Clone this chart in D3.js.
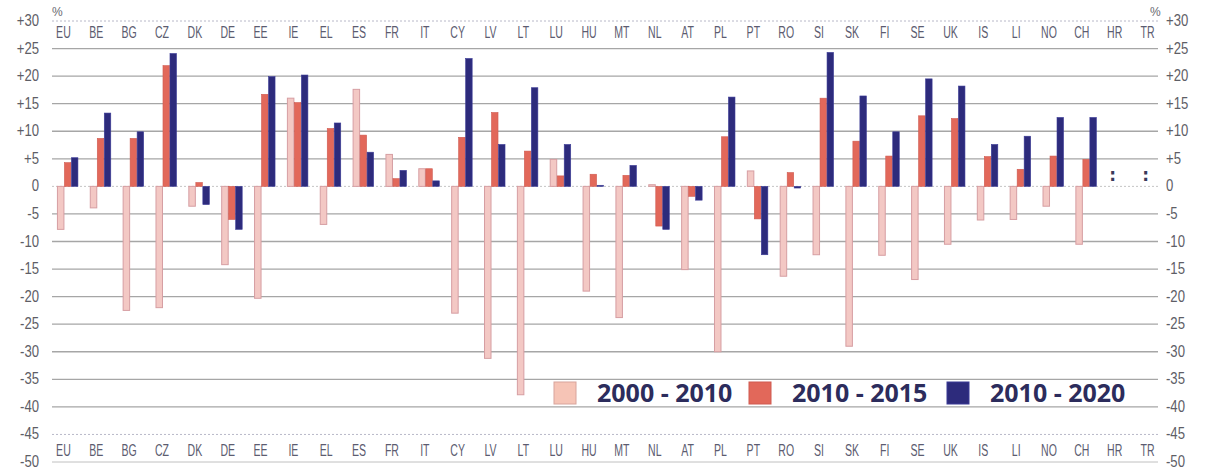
<!DOCTYPE html>
<html>
<head>
<meta charset="utf-8">
<script src="https://cdn.jsdelivr.net/npm/d3@7"></script>
<style>
  body { margin: 0; background: #fff; }
  svg { display: block; }
</style>
</head>
<body>
<svg id="chart" width="1212" height="475"></svg>
<script>
const countries = ['EU', 'BE', 'BG', 'CZ', 'DK', 'DE', 'EE', 'IE', 'EL', 'ES', 'FR', 'IT', 'CY', 'LV', 'LT', 'LU', 'HU', 'MT', 'NL', 'AT', 'PL', 'PT', 'RO', 'SI', 'SK', 'FI', 'SE', 'UK', 'IS', 'LI', 'NO', 'CH', 'HR', 'TR'];
const seriesNames = ['2000 - 2010', '2010 - 2015', '2010 - 2020'];
const change2000_2010 = [-7.8, -3.9, -22.5, -22, -3.6, -14.2, -20.3, 16, -6.9, 17.6, 5.8, 3.2, -23, -31.2, -37.8, 4.9, -19, -23.8, 0.3, -15.1, -30, 2.8, -16.3, -12.4, -29, -12.5, -16.9, -10.5, -6.1, -6, -3.6, -10.5, null, null];
const change2010_2015 = [4.3, 8.7, 8.7, 21.9, 0.7, -6, 16.7, 15.2, 10.5, 9.3, 1.4, 3.2, 8.9, 13.4, 6.4, 1.9, 2.2, 2.0, -7.2, -1.8, 9.0, -5.9, 2.5, 16, 8.2, 5.5, 12.8, 12.3, 5.4, 3.1, 5.5, 4.9, null, null];
const change2010_2020 = [5.2, 13.3, 9.9, 24.1, -3.3, -7.8, 19.9, 20.2, 11.5, 6.2, 2.9, 1.0, 23.2, 7.6, 17.9, 7.6, 0.2, 3.8, -7.8, -2.5, 16.2, -12.4, -0.3, 24.3, 16.4, 9.9, 19.5, 18.2, 7.6, 9.1, 12.5, 12.5, null, null];
const yTicks = [30, 25, 20, 15, 10, 5, 0, -5, -10, -15, -20, -25, -30, -35, -40, -45, -50];

const fills = ['#f3c8c4', '#e2685a', '#2d2b7c'];
const strokes = ['#d69ea2', '#cf5a50', '#3a3a96'];

const svg = d3.select('#chart');
const gridLeft = 52, gridRight = 1158;

const y = d3.scaleLinear().domain([-50, 30]).range([462, 21]);
const x = d3.scaleBand().domain(countries).range([51, 1168]).padding(0);
const x1 = d3.scaleBand().domain(seriesNames).range([0, 21]).padding(0);

// grid
const grid = svg.append('g');
yTicks.forEach(t => {
  let dash = null, col = '#a6a6a6', w = 1.3;
  if (t === 30 || t === -45) { dash = '2,2'; col = '#b8b8c8'; w = 1; }
  if (t === 0) { dash = '2,2'; col = '#c4c4c4'; w = 1; }
  if (t === -50) { col = '#c0c0c0'; w = 1; }
  grid.append('line')
    .attr('x1', gridLeft).attr('x2', gridRight)
    .attr('y1', y(t)).attr('y2', y(t))
    .attr('stroke', col).attr('stroke-width', w)
    .attr('stroke-dasharray', dash);
});

// axis labels left and right
const fmt = d => (d > 0 ? '+' + d : String(d));
[['end', 39], ['start', 1166]].forEach(([anchor, xp]) => {
  svg.append('g').selectAll('text')
    .data(yTicks)
    .join('text')
    .attr('transform', d => `translate(${xp},${y(d) + 5}) scale(0.82,1)`)
    .attr('text-anchor', anchor)
    .attr('font-family', 'Liberation Sans, Arial, sans-serif')
    .attr('font-size', 16)
    .attr('fill', '#5e5e66')
    .text(fmt);
});

svg.append('text').attr('x', 52).attr('y', 16).attr('font-family', 'Liberation Sans, sans-serif')
  .attr('font-size', 12).attr('fill', '#6a6a72').text('%');
svg.append('text').attr('x', 1150).attr('y', 16).attr('font-family', 'Liberation Sans, sans-serif')
  .attr('font-size', 12).attr('fill', '#6a6a72').text('%');

// category labels top and bottom
[38, 456].forEach(yp => {
  svg.append('g').selectAll('text')
    .data(countries)
    .join('text')
    .attr('transform', d => `translate(${x(d) + x.bandwidth() / 2 - 4},${yp}) scale(0.62,1)`)
    .attr('text-anchor', 'middle')
    .attr('font-family', 'Liberation Sans, Arial, sans-serif')
    .attr('font-size', 17)
    .attr('fill', '#5c5c70')
    .text(d => d);
});

// bars
const allSeries = [change2000_2010, change2010_2015, change2010_2020];
const rows = [];
countries.forEach((c, i) => {
  allSeries.forEach((s, k) => {
    if (s[i] !== null) rows.push({ c, k, v: s[i] });
  });
});

svg.append('g').selectAll('rect')
  .data(rows)
  .join('rect')
  .attr('x', d => x(d.c) + x.bandwidth() / 2 - 10.5 + x1(seriesNames[d.k]) + 0.5)
  .attr('width', x1.bandwidth() - 0.5)
  .attr('y', d => y(Math.max(0, d.v)))
  .attr('height', d => Math.abs(y(d.v) - y(0)))
  .attr('fill', d => fills[d.k])
  .attr('stroke', d => strokes[d.k])
  .attr('stroke-width', d => (d.k === 0 ? 1 : 0.6));

// not available markers
svg.append('g').selectAll('text')
  .data(countries.filter((c, i) => change2010_2020[i] === null))
  .join('text')
  .attr('x', d => x(d) + x.bandwidth() / 2 - 6)
  .attr('y', y(0) - 5)
  .attr('text-anchor', 'middle')
  .attr('font-family', 'DejaVu Sans, sans-serif')
  .attr('font-weight', 'bold')
  .attr('font-size', 17)
  .attr('fill', '#3a3a5a')
  .text(':');

// legend
const legendX = [554, 749, 947];
const lg = svg.append('g');
seriesNames.forEach((name, k) => {
  lg.append('rect')
    .attr('x', legendX[k]).attr('y', 382)
    .attr('width', 22).attr('height', 22)
    .attr('fill', k === 0 ? '#f6c4b6' : fills[k])
    .attr('stroke', k === 0 ? '#d8a49c' : strokes[k])
    .attr('stroke-width', 1);
  lg.append('text')
    .attr('x', legendX[k] + 43).attr('y', 402)
    .attr('font-family', 'Open Sans, sans-serif')
    .attr('font-weight', 'bold')
    .attr('font-size', 25)
    .attr('fill', '#2c2c5c')
    .text(name);
});
</script>
</body>
</html>
